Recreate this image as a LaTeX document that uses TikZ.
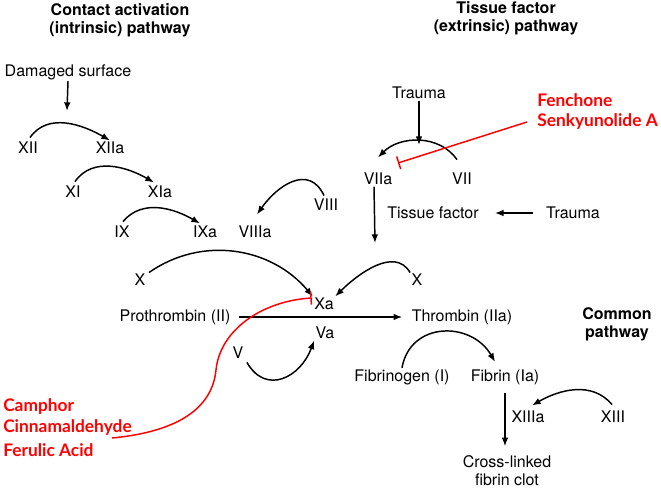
\documentclass[tikz,border=0pt]{standalone}
\usepackage{fontspec}
\setmainfont{TeX Gyre Heros}
\newfontfamily\drugfont{Lato}
\usetikzlibrary{arrows.meta,calc}

\tikzset{
  fac/.style={inner sep=1pt,font=\fontsize{12}{13.5}\selectfont},
  head/.style={inner sep=1pt,align=center,font=\bfseries\fontsize{12}{13.5}\selectfont},
  drug/.style={inner sep=0pt,anchor=west,red,font=\drugfont\bfseries\fontsize{13}{15}\selectfont},
  conv/.style={line width=1.1pt,-{Latex[length=6.5pt,width=5pt]}},
  inhib/.style={red,line width=1.1pt,-{Bar[width=10pt]}}
}

\begin{document}
\begin{tikzpicture}[x=0.75pt,y=-0.75pt]
\useasboundingbox (0,0) rectangle (661,489);

% Headings
\node[head] (intrhead) at (120,20) {Contact activation\\(intrinsic) pathway};
\node[head] (extrhead) at (506,18) {Tissue factor\\(extrinsic) pathway};
\node[head] (commhead) at (617,324) {Common\\pathway};

% Central factors
\node[fac] (Xa) at (324,304) {Xa};
\node[fac] (Va) at (325,333) {Va};
\node[fac] (V) at (238,353) {V};

% Intrinsic pathway
\node[fac] (dmg) at (68,72) {Damaged surface};
\node[fac] (XII) at (28,148) {XII};
\node[fac] (XIIa) at (110,148) {XIIa};
\node[fac] (XI) at (73,192) {XI};
\node[fac] (XIa) at (160,192) {XIa};
\node[fac] (IX) at (122,232) {IX};
\node[fac] (IXa) at (205,232) {IXa};
\node[fac] (VIIIa) at (255,232) {VIIIa};
\node[fac] (VIII) at (326,205) {VIII};
\node[fac] (Xl) at (140,280) {X};
\coordinate (dmgend) at (67,111);
\draw[conv] (dmg.south) -- (dmgend);
\draw[conv] ($(XII.north)+(2,-3)$) to[out=55,in=150] (XIIa.north);
\draw[conv] ($(XI.north)+(2,-3)$) to[out=55,in=150] ($(XIa.north)+(-6,-2)$);
\draw[conv] ($(IX.north)+(1,-3)$) to[out=50,in=150] ($(IXa.north)+(-5,-1)$);
\draw[conv] ($(VIII.north)+(-2,-2)$) to[out=115,in=55,looseness=1.3] ($(VIIIa.north)+(2,-10)$);
\draw[conv] ($(Xl.north east)+(2,0)$) to[out=35,in=130] (Xa.north west);

% Extrinsic pathway
\node[fac] (trauma) at (419,93) {Trauma};
\node[fac] (VIIa) at (378,179) {VIIa};
\node[fac] (VII) at (462,179) {VII};
\node[fac] (tf) at (433,213) {Tissue factor};
\node[fac] (trauma2) at (573,213) {Trauma};
\node[fac] (Xr) at (417,280) {X};
\coordinate (traumaend) at (419,145);
\coordinate (VIIaend) at (375,243);
\draw[conv] (trauma.south) -- (traumaend);
\draw[conv] ($(VII.north)+(-5,-12)$) to[out=125,in=45] ($(VIIa.north)+(0,-14)$);
\draw[conv] ([xshift=-3]VIIa.south) -- (VIIaend);
\draw[conv,shorten <=9pt,shorten >=11pt] (trauma2.west) -- (tf.east);
\draw[conv] (Xr.north west) to[out=120,in=45] (Xa.north east);

% Common pathway
\node[fac] (proth) at (175,317) {Prothrombin (II)};
\node[fac] (thromb) at (462,317) {Thrombin (IIa)};
\node[fac] (fibgen) at (402,377) {Fibrinogen (I)};
\node[fac] (fibrin) at (505,377) {Fibrin (Ia)};
\node[fac] (XIIIa) at (528,417) {XIIIa};
\node[fac] (XIII) at (613,417) {XIII};
\node[fac,align=center] (clot) at (507,471) {Cross-linked\\fibrin clot};
\draw[conv,shorten <=5pt,shorten >=6pt] (proth.east) -- (thromb.west);
\draw[conv] ($(V.south east)+(2,2)$) to[out=-60,in=-110,looseness=1.4] (Va.south west);
\draw[conv] (fibgen.north) to[out=80,in=120,looseness=1.3] ($(fibrin.north)+(-10,-6)$);
\draw[conv,shorten <=5pt,shorten >=6pt] (fibrin.south) -- (fibrin.south |- clot.north);
\draw[conv] ($(XIII.north)+(-1,-5)$) to[out=130,in=30] ($(XIIIa.north)+(4,-4)$);

% Inhibitors
\node[drug] (fench) at (537,100) {Fenchone};
\node[drug] (senk) at (537,122) {Senkyunolide A};
\node[drug] (camph) at (3,407) {Camphor};
\node[drug] (cinna) at (3,428) {Cinnamaldehyde};
\node[drug] (ferul) at (3,450) {Ferulic Acid};
\coordinate (fenend) at (398,163);
\coordinate (cinstart) at (112,438);
\draw[inhib] ($(senk.west)+(-10,0)$) -- (fenend);
\draw[inhib] (cinstart) .. controls (175,432) and (212,410) .. (216,370)
  .. controls (220,330) and (262,301) .. ($(Xa.west)+(-1,-6)$);
\end{tikzpicture}
\end{document}
